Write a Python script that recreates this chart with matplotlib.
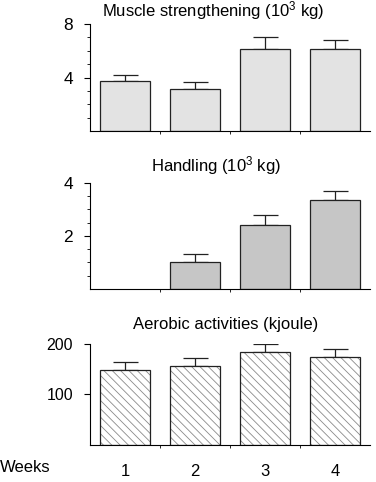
import matplotlib
matplotlib.use('Agg')
import matplotlib.pyplot as plt

plt.rcParams['font.family'] = ['Liberation Sans', 'DejaVu Sans']
plt.rcParams['mathtext.default'] = 'regular'
plt.rcParams['hatch.linewidth'] = 0.6

# data
weeks = [1, 2, 3, 4]
week_labels = ['1', '2', '3', '4']

muscle_mean = [3.72, 3.15, 6.17, 6.17]
muscle_err = [0.45, 0.50, 0.83, 0.62]

handling_mean = [0, 1.02, 2.41, 3.37]
handling_err = [0, 0.29, 0.37, 0.34]

aerobic_mean = [148, 156, 184, 173]
aerobic_err = [15, 16, 16, 17]

fig = plt.figure(figsize=(3.76, 4.82), dpi=100)

# left, bottom, width, height
ax1 = fig.add_axes([0.239, 0.728, 0.745, 0.222])
ax2 = fig.add_axes([0.239, 0.4004, 0.745, 0.220])
ax3 = fig.add_axes([0.239, 0.0778, 0.745, 0.2095])


def draw_panel(ax, means, errs, face, hatch, hcolor):
    for x, m, e in zip(weeks, means, errs):
        if m <= 0:
            continue
        # hatch takes the edge colour, so draw the fill first, then the outline
        ax.bar(x, m, width=0.71, color=face, edgecolor=hcolor, linewidth=0,
               hatch=hatch, zorder=2)
        ax.bar(x, m, width=0.71, color='none', edgecolor='#222222', linewidth=0.9, zorder=3)
        ax.errorbar(x, m, yerr=[[0], [e]], fmt='none', ecolor='#222222',
                    elinewidth=0.9, capsize=9, capthick=0.9, zorder=1)
    ax.set_xlim(0.5, 4.5)
    for s in ['top', 'right']:
        ax.spines[s].set_visible(False)
    ax.spines['left'].set_linewidth(0.8)
    ax.spines['bottom'].set_linewidth(0.8)
    ax.set_xticks([1.5, 2.5, 3.5])
    ax.set_xticklabels([])
    ax.tick_params(axis='x', length=2, width=0.6, direction='out')
    ax.tick_params(axis='y', which='major', length=4, width=0.8, labelsize=12.5, pad=8)
    ax.tick_params(axis='y', which='minor', length=2.5, width=0.6)


draw_panel(ax1, muscle_mean, muscle_err, '#e3e3e3', None, '#bbbbbb')
ax1.set_ylim(0, 8)
ax1.set_yticks([4, 8])
ax1.set_yticks([1, 2, 3, 5, 6, 7], minor=True)

draw_panel(ax2, handling_mean, handling_err, '#c6c6c6', None, '#999999')
ax2.set_ylim(0, 4)
ax2.set_yticks([2, 4])
ax2.set_yticks([0.5, 1, 1.5, 2.5, 3, 3.5], minor=True)

draw_panel(ax3, aerobic_mean, aerobic_err, 'white', '\\\\\\\\', '#8a8a8a')
ax3.set_ylim(0, 200)
ax3.set_yticks([100, 200])
ax3.tick_params(axis='y', which='major', labelsize=11.5)

# week labels under the last panel
ax3.set_xticks(weeks, minor=True)
ax3.set_xticklabels(week_labels, minor=True)
ax3.tick_params(axis='x', which='minor', length=0, labelsize=12, pad=14)
fig.text(0.0, 1 - 468 / 482, 'Weeks', fontsize=12, va='center', ha='left')

fig.text(213 / 376, 1 - 11 / 482, 'Muscle strengthening (10$^3$ kg)', fontsize=12,
         ha='center', va='center')
fig.text(216 / 376, 1 - 166 / 482, 'Handling (10$^3$ kg)', fontsize=12,
         ha='center', va='center')
fig.text(226 / 376, 1 - 325 / 482, 'Aerobic activities (kjoule)', fontsize=12,
         ha='center', va='center')

fig.savefig('out.png', dpi=100)
